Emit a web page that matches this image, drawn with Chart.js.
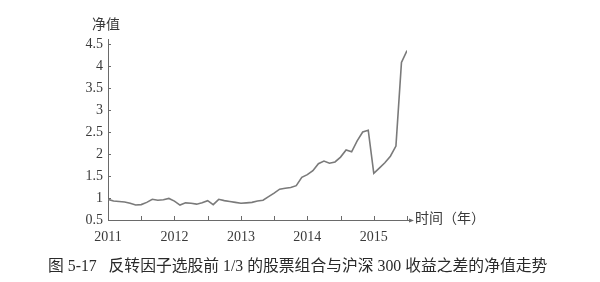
<!DOCTYPE html>
<html>
<head>
<meta charset="utf-8">
<script src="https://cdn.jsdelivr.net/npm/chart.js@4.4.0/dist/chart.umd.min.js"></script>
<style>
  html, body { margin: 0; padding: 0; background: #fff; }
  #wrap { position: relative; width: 600px; height: 282px; overflow: hidden; }
  #chart { position: absolute; left: 0; top: 0; }
  .lbl { position: absolute; color: #3a3a3a; white-space: nowrap; }
  #ytitle { left: 92px; top: 13px; font-size: 14px; font-family: "Noto Sans CJK SC", sans-serif; }
  #xtitle { left: 415px; top: 207px; font-size: 14px; font-family: "Noto Sans CJK SC", sans-serif; }
  #caption { left: 48px; top: 253px; font-size: 15.8px; color: #2a2a2a; font-family: "Liberation Serif", "Noto Sans CJK SC", serif; }
</style>
</head>
<body>
<div id="wrap">
  <canvas id="chart" width="600" height="282"></canvas>
  <div id="ytitle" class="lbl">净值</div>
  <div id="xtitle" class="lbl">时间（年）</div>
  <div id="caption" class="lbl">图 5-17&nbsp;&nbsp;&nbsp;反转因子选股前 1/3 的股票组合与沪深 300 收益之差的净值走势</div>
</div>
<script>
// month index counted from Jan 2011
const months = [
  0, 1, 2, 3, 4, 5, 6, 7, 8, 9, 10, 11,
  12, 13, 14, 15, 16, 17, 18, 19, 20, 21, 22, 23,
  24, 25, 26, 27, 28, 29, 30, 31, 32, 33, 34, 35,
  36, 37, 38, 39, 40, 41, 42, 43, 44, 45, 46, 47,
  48, 49, 50, 51, 52, 53, 54
];
const netValue = [
  0.97, 0.93, 0.92, 0.91, 0.88, 0.84, 0.85, 0.90, 0.97, 0.95, 0.96, 0.99,
  0.93, 0.84, 0.89, 0.88, 0.86, 0.89, 0.94, 0.85, 0.97, 0.94, 0.92, 0.90,
  0.88, 0.89, 0.90, 0.93, 0.95, 1.03, 1.11, 1.20, 1.22, 1.24, 1.28, 1.47,
  1.53, 1.62, 1.78, 1.84, 1.79, 1.82, 1.93, 2.09, 2.05, 2.30, 2.50, 2.54,
  1.56, 1.68, 1.80, 1.95, 2.18, 4.08, 4.35
];
const yearLabels = [2011, 2012, 2013, 2014, 2015];
const yTicks = [0.5, 1, 1.5, 2, 2.5, 3, 3.5, 4, 4.5];

const axisColor = '#6a6a6a';
const textColor = '#3a3a3a';

const points = months.map((m, i) => ({ x: 2011 + m / 12, y: netValue[i] }));

// small inward ticks and the arrow at the end of the time axis
const axisDecor = {
  id: 'axisDecor',
  afterDraw(chart) {
    const ctx = chart.ctx;
    const xs = chart.scales.x, ys = chart.scales.y;
    const area = chart.chartArea;
    ctx.save();
    ctx.strokeStyle = axisColor;
    ctx.fillStyle = axisColor;
    ctx.lineWidth = 1;
    ctx.beginPath();
    for (let v = 2011.5; v < 2015.6; v += 0.5) {
      const px = Math.round(xs.getPixelForValue(v)) + 0.5;
      ctx.moveTo(px, area.bottom);
      ctx.lineTo(px, area.bottom - 4);
    }
    yTicks.forEach(v => {
      const py = Math.round(ys.getPixelForValue(v)) + 0.5;
      ctx.moveTo(area.left, py);
      ctx.lineTo(area.left + 3, py);
    });
    // y axis extends a little above the top tick
    ctx.moveTo(area.left + 0.5, area.top);
    ctx.lineTo(area.left + 0.5, area.top - 5);
    // x axis extends a little past the last point
    const ay = Math.round(area.bottom) + 0.5;
    ctx.moveTo(area.right, ay);
    ctx.lineTo(area.right + 3, ay);
    ctx.stroke();
    // arrow
    const ax = area.right + 4;
    ctx.beginPath();
    ctx.moveTo(ax + 3, ay);
    ctx.lineTo(ax - 2, ay - 2);
    ctx.lineTo(ax - 2, ay + 2);
    ctx.closePath();
    ctx.fill();
    ctx.restore();
  }
};

new Chart(document.getElementById('chart'), {
  type: 'line',
  data: {
    datasets: [{
      data: points,
      borderColor: '#7a7a7a',
      borderWidth: 1.6,
      pointRadius: 0,
      tension: 0,
      fill: false
    }]
  },
  options: {
    responsive: false,
    animation: false,
    layout: { padding: { left: 0, top: 44, right: 193, bottom: 34 } },
    plugins: { legend: { display: false }, tooltip: { enabled: false } },
    scales: {
      x: {
        type: 'linear',
        min: 2011,
        max: 2015.5,
        afterFit(scale) { scale.height = 28; },
        afterBuildTicks(scale) { scale.ticks = yearLabels.map(v => ({ value: v })); },
        grid: { display: false, drawTicks: false },
        border: { display: true, color: axisColor, width: 1 },
        ticks: {
          padding: 9,
          color: textColor,
          font: { family: 'Liberation Serif', size: 14 },
          maxRotation: 0,
          callback: v => String(v)
        }
      },
      y: {
        min: 0.5,
        max: 4.5,
        afterFit(scale) { scale.width = 108; },
        afterBuildTicks(scale) { scale.ticks = yTicks.map(v => ({ value: v })); },
        grid: { display: false, drawTicks: false },
        border: { display: true, color: axisColor, width: 1 },
        ticks: {
          padding: 5,
          color: textColor,
          font: { family: 'Liberation Serif', size: 14 },
          callback: v => String(v)
        }
      }
    }
  },
  plugins: [axisDecor]
});
</script>
</body>
</html>
